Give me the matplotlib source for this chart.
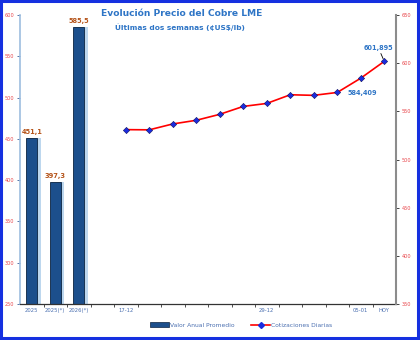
import matplotlib
matplotlib.use("Agg")
import matplotlib.pyplot as plt
from matplotlib.patches import Rectangle
from matplotlib.lines import Line2D
from matplotlib.patches import Patch

# Annual averages (left axis) and daily quotes (right axis), US cents per lb
bar_labels = ["2025", "2025(*)", "2026(*)"]
bar_values = [451.1, 397.3, 585.5]

daily_labels = ["17-12", "", "", "", "", "", "29-12", "", "", "", "05-01", "HOY"]
daily_values = [531.0, 530.8, 536.9, 540.7, 546.9, 555.1, 558.2, 567.2, 566.6, 569.6, 584.409, 601.895]

gap_slots = 1  # empty slot between the annual bars and the daily series

title = "Evolución Precio del Cobre LME"
subtitle = "Últimas dos semanas (¢US$/lb)"

BAR_BLUE = "#1C4F8C"
BAR_GLOW = "#BDD7EE"
LINE_RED = "#FF0000"
MARK_BLUE = "#1A2BE0"
TXT_BLUE = "#2E75C6"
VAL_BROWN = "#B5541A"
TICK_RED = "#E8454A"
AXIS_TXT = "#4A6FB0"

fig = plt.figure(figsize=(4.2, 3.4), dpi=100)
fig.patch.set_facecolor("white")
ax = fig.add_axes([20 / 420, 1 - 304 / 340, 376 / 420, 289 / 340])
ax2 = ax.twinx()

n_bars = len(bar_values)
bar_x = list(range(n_bars))
line_x = [n_bars + gap_slots + i for i in range(len(daily_values))]
n_total = n_bars + gap_slots + len(daily_values)

# annual bars with a soft light-blue glow behind them
ax.bar([x + 0.09 for x in bar_x], bar_values, width=0.58, color=BAR_GLOW,
       edgecolor="none", zorder=1)
ax.bar(bar_x, bar_values, width=0.47, color=BAR_BLUE, edgecolor="#0B2340",
       linewidth=0.6, zorder=2)
for x, v in zip(bar_x, bar_values):
    ax.text(x, v + 4, f"{v:.1f}".replace(".", ","), ha="center", va="bottom",
            fontsize=4.8, fontweight="bold", color=VAL_BROWN, zorder=3)

ax.set_ylim(250, 600)
ax.set_yticks(range(250, 601, 50))
ax.set_xlim(-0.5, n_total - 0.5)

# daily quotes on the right axis
ax2.plot(line_x, daily_values, color=LINE_RED, lw=1.2, zorder=4)
ax2.plot(line_x, daily_values, lw=0, marker="D", ms=3.2, color=MARK_BLUE,
         markeredgecolor="#101060", markeredgewidth=0.4, zorder=5)
ax2.set_ylim(350, 650)
ax2.set_yticks(range(350, 651, 50))

# value call-outs for the last two quotes
ax2.annotate(f"{daily_values[-1]:.3f}".replace(".", ","),
             xy=(line_x[-1], daily_values[-1]),
             xytext=(line_x[-1] - 0.25, daily_values[-1] + 11),
             ha="center", va="bottom", fontsize=4.7, fontweight="bold",
             color=TXT_BLUE,
             arrowprops=dict(arrowstyle="-", color="black", lw=0.6,
                             shrinkA=0, shrinkB=2))
ax2.annotate(f"{daily_values[-2]:.3f}".replace(".", ","),
             xy=(line_x[-2], daily_values[-2]),
             xytext=(line_x[-2] + 0.08, daily_values[-2] - 15),
             ha="center", va="center", fontsize=4.7, fontweight="bold",
             color=TXT_BLUE,
             arrowprops=dict(arrowstyle="-", color="black", lw=0.6,
                             shrinkA=4, shrinkB=2))

# category labels centred in slots, tick marks on slot boundaries
all_labels = bar_labels + [""] * gap_slots + daily_labels
ax.set_xticks(range(n_total))
ax.set_xticklabels(all_labels, fontsize=3.8, color=AXIS_TXT)
ax.tick_params(axis="x", length=0, pad=3)
ax.set_xticks([i - 0.5 for i in range(1, n_total)], minor=True)
ax.tick_params(axis="x", which="minor", length=2.5, width=0.6, color="#333333")

ax.tick_params(axis="y", labelsize=3.6, labelcolor=TICK_RED, length=2,
               width=0.6, color="#3A5F9A", pad=2)
ax2.tick_params(axis="y", labelsize=3.6, labelcolor=TICK_RED, length=2,
                width=0.6, color="#222222", pad=2)

for a in (ax, ax2):
    a.spines["top"].set_visible(False)
ax.spines["left"].set_color("#9DBEDF")
ax.spines["left"].set_linewidth(1.2)
ax.spines["right"].set_visible(False)
ax.spines["bottom"].set_color("#333333")
ax.spines["bottom"].set_linewidth(0.9)
ax2.spines["left"].set_visible(False)
ax2.spines["bottom"].set_visible(False)
ax2.spines["right"].set_color("#8C8C8C")
ax2.spines["right"].set_linewidth(1.5)

# titles
fig.text(182 / 420, 1 - 14 / 340, title, ha="center", va="center",
         fontsize=6.6, fontweight="bold", color=TXT_BLUE)
fig.text(180 / 420, 1 - 27 / 340, subtitle, ha="center", va="center",
         fontsize=5.3, fontweight="bold", color=TXT_BLUE)

# legend
handles = [
    Patch(facecolor=BAR_BLUE, edgecolor="#0B2340", linewidth=0.5),
    Line2D([], [], color=LINE_RED, lw=1.2, marker="D", ms=3,
           markerfacecolor=MARK_BLUE, markeredgecolor=MARK_BLUE),
]
fig.legend(handles, ["Valor Anual Promedio", "Cotizaciones Diarias"],
           loc="center", bbox_to_anchor=(241 / 420, 1 - 325 / 340), ncol=2,
           frameon=False, fontsize=4.3, labelcolor=AXIS_TXT,
           handlelength=3.2, handleheight=0.7, handletextpad=0.15,
           columnspacing=2.8)

# outer frame
fig.patches.append(Rectangle((0.002, 0.006), 0.994, 0.99, transform=fig.transFigure,
                             fill=False, edgecolor="#1530E0", linewidth=2.2))

fig.savefig("out.png", dpi=100)
